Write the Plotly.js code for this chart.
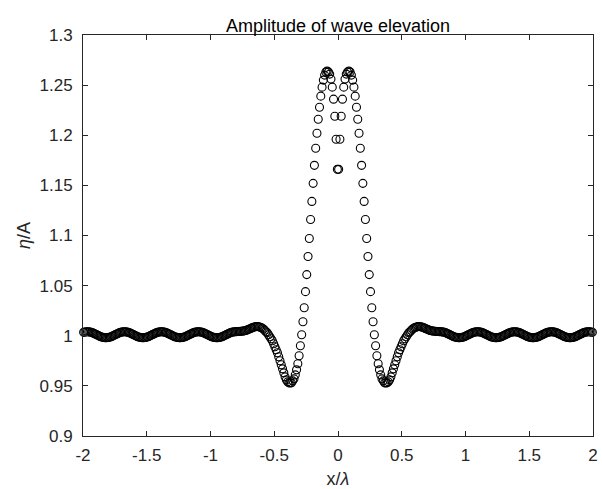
<!DOCTYPE html>
<html>
<head>
<meta charset="utf-8">
<script src="https://cdn.plot.ly/plotly-3.0.1.min.js"></script>
<style>html,body{margin:0;padding:0;background:#fff;}#chart{width:602px;height:489px;}</style>
</head>
<body>
<div id="chart"></div>
<script>
// grid of x/lambda positions: 400 points from -1.995 to 1.995
var xStart = -1.995;
var xStep = 0.01;

var etaLeft = [
1.0034,1.0037,1.0039,1.0040,1.0039,1.0037,1.0034,1.0029,1.0024,1.0018,
1.0012,1.0005,0.9999,0.9993,0.9988,0.9984,0.9982,0.9980,0.9980,0.9982,
0.9984,0.9988,0.9993,0.9999,1.0005,1.0012,1.0018,1.0024,1.0029,1.0034,
1.0037,1.0039,1.0040,1.0039,1.0037,1.0034,1.0029,1.0024,1.0018,1.0012,
1.0005,0.9999,0.9993,0.9988,0.9984,0.9982,0.9980,0.9980,0.9982,0.9984,
0.9988,0.9993,0.9999,1.0005,1.0012,1.0018,1.0024,1.0029,1.0034,1.0037,
1.0039,1.0040,1.0039,1.0037,1.0034,1.0029,1.0024,1.0018,1.0012,1.0005,
0.9999,0.9993,0.9988,0.9984,0.9982,0.9980,0.9980,0.9982,0.9984,0.9988,
0.9993,0.9999,1.0005,1.0012,1.0018,1.0024,1.0029,1.0034,1.0037,1.0039,
1.0040,1.0039,1.0037,1.0034,1.0029,1.0024,1.0018,1.0012,1.0005,0.9999,
0.9993,0.9988,0.9984,0.9982,0.9980,0.9980,0.9982,0.9984,0.9988,0.9993,
0.9999,1.0005,1.0012,1.0018,1.0024,1.0029,1.0034,1.0037,1.0039,1.0040,
1.0041,1.0042,1.0043,1.0044,1.0045,1.0047,1.0049,1.0052,1.0056,1.0061,
1.0067,1.0073,1.0079,1.0084,1.0088,1.0091,1.0092,1.0091,1.0088,1.0083,
1.0076,1.0067,1.0055,1.0040,1.0030,1.0010,0.9990,0.9970,0.9950,0.9920,
0.989,0.986,0.983,0.979,0.975,0.971,0.967,0.963,0.959,0.956,
0.954,0.953,0.953,0.953,0.955,0.957,0.961,0.966,0.972,0.980,
0.990,1.001,1.014,1.028,1.044,1.061,1.079,1.097,1.116,1.134,
1.152,1.170,1.187,1.202,1.216,1.228,1.239,1.248,1.255,1.260,
1.263,1.264,1.263,1.261,1.256,1.248,1.236,1.219,1.196,1.166
];
var etaRight = [
1.166,1.196,1.219,1.236,1.248,1.256,1.261,1.263,1.264,1.263,
1.260,1.255,1.248,1.239,1.228,1.216,1.202,1.187,1.170,1.152,
1.134,1.116,1.097,1.079,1.061,1.044,1.028,1.014,1.001,0.990,
0.980,0.972,0.966,0.961,0.957,0.955,0.953,0.953,0.953,0.954,
0.956,0.959,0.963,0.967,0.971,0.975,0.979,0.983,0.986,0.989,
0.9920,0.9950,0.9970,0.9990,1.0010,1.0030,1.0040,1.0055,1.0067,1.0076,
1.0083,1.0088,1.0091,1.0092,1.0091,1.0088,1.0084,1.0079,1.0073,1.0067,
1.0061,1.0056,1.0052,1.0049,1.0047,1.0045,1.0044,1.0043,1.0042,1.0041,
1.0040,1.0039,1.0037,1.0034,1.0029,1.0024,1.0018,1.0012,1.0005,0.9999,
0.9993,0.9988,0.9984,0.9982,0.9980,0.9980,0.9982,0.9984,0.9988,0.9993,
0.9999,1.0005,1.0012,1.0018,1.0024,1.0029,1.0034,1.0037,1.0039,1.0040,
1.0039,1.0037,1.0034,1.0029,1.0024,1.0018,1.0012,1.0005,0.9999,0.9993,
0.9988,0.9984,0.9982,0.9980,0.9980,0.9982,0.9984,0.9988,0.9993,0.9999,
1.0005,1.0012,1.0018,1.0024,1.0029,1.0034,1.0037,1.0039,1.0040,1.0039,
1.0037,1.0034,1.0029,1.0024,1.0018,1.0012,1.0005,0.9999,0.9993,0.9988,
0.9984,0.9982,0.9980,0.9980,0.9982,0.9984,0.9988,0.9993,0.9999,1.0005,
1.0012,1.0018,1.0024,1.0029,1.0034,1.0037,1.0039,1.0040,1.0039,1.0037,
1.0034,1.0029,1.0024,1.0018,1.0012,1.0005,0.9999,0.9993,0.9988,0.9984,
0.9982,0.9980,0.9980,0.9982,0.9984,0.9988,0.9993,0.9999,1.0005,1.0012,
1.0018,1.0024,1.0029,1.0034,1.0037,1.0039,1.0040,1.0039,1.0037,1.0034
];

var xTickVals = [-2,-1.5,-1,-0.5,0,0.5,1,1.5,2];
var xTickText = ['-2','-1.5','-1','-0.5','0','0.5','1','1.5','2'];
var yTickVals = [0.9,0.95,1,1.05,1.1,1.15,1.2,1.25,1.3];
var yTickText = ['0.9','0.95','1','1.05','1.1','1.15','1.2','1.25','1.3'];

var eta = etaLeft.concat(etaRight);
var xs = [];
for (var i = 0; i < eta.length; i++) xs.push(+(xStart + i * xStep).toFixed(3));

var axisColor = '#262626';
var fontFam = 'Liberation Sans, Arial, Helvetica, sans-serif';

var trace = {
  x: xs, y: eta, type: 'scatter', mode: 'markers', cliponaxis: false,
  marker: {symbol: 'circle-open', size: 8, color: '#000000', line: {width: 1.1, color: '#000000'}},
  hoverinfo: 'skip'
};

var axisCommon = {
  ticks: 'inside', ticklen: 5, tickwidth: 1, tickcolor: axisColor,
  showline: true, linecolor: axisColor, linewidth: 1, mirror: 'ticks',
  showgrid: false, zeroline: false,
  tickfont: {family: fontFam, size: 17, color: axisColor}
};

var layout = {
  width: 602, height: 489,
  margin: {l: 83, r: 9, t: 35, b: 53},
  paper_bgcolor: '#ffffff', plot_bgcolor: '#ffffff',
  showlegend: false,
  font: {family: fontFam, color: axisColor},
  title: {text: 'Amplitude of wave elevation', x: 0.5, xref: 'paper', y: 1, yref: 'paper', yanchor: 'bottom', pad: {b: 3},
          font: {family: fontFam, size: 18, color: '#000000'}},
  xaxis: Object.assign({}, axisCommon, {
    range: [-2, 2], tickmode: 'array', tickvals: xTickVals, ticktext: xTickText,
    ticklabelstandoff: 4,
    title: {text: 'x/<i>λ</i>', standoff: 7, font: {family: fontFam, size: 18, color: axisColor}}
  }),
  yaxis: Object.assign({}, axisCommon, {
    range: [0.9, 1.3], tickmode: 'array', tickvals: yTickVals, ticktext: yTickText,
    ticklabelstandoff: 6,
    title: {text: '<i>η</i>/A', standoff: 4, font: {family: fontFam, size: 18, color: axisColor}}
  })
};

Plotly.newPlot('chart', [trace], layout, {displayModeBar: false, staticPlot: true});
</script>
</body>
</html>
